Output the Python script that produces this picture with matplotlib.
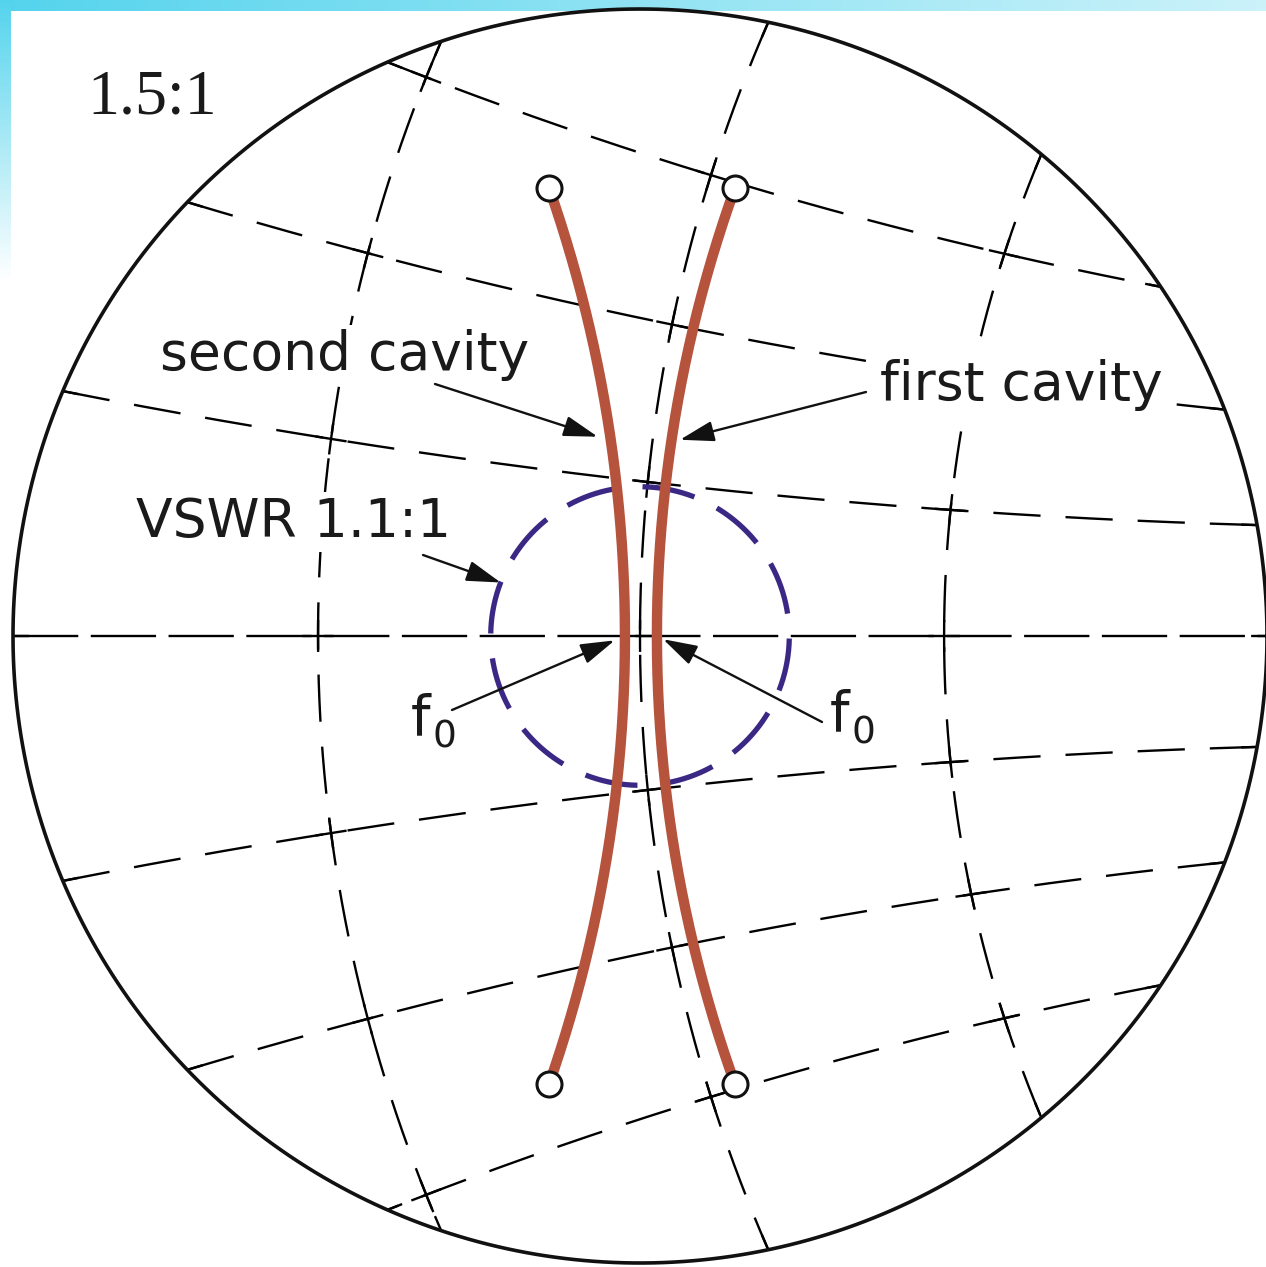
import numpy as np
import matplotlib
matplotlib.use("Agg")
import matplotlib.pyplot as plt

plt.rcParams['font.family'] = ['DejaVu Sans']
plt.rcParams['lines.scale_dashes'] = False

# ---- values (reflection coefficient plane) ----
vswr_outer = 1.5                 # edge of the magnified chart
vswr_match = 1.1                 # purple dashed circle
# constant resistance arcs: point at the top edge and crossing of the real axis
res_top_re = [-0.0635, 0.0408, 0.1282]
res_top_im = [0.1895, 0.1955, 0.1541]
res_axis_re = [-0.1027, 0.0, 0.0970]
# constant reactance arcs (upper half, mirrored below): left / middle / right point
react_re = [[-0.1840, 0.0, 0.1962], [-0.1381, 0.0574, 0.1876], [-0.0807, 0.0246, 0.1681]]
react_im = [[0.0781, 0.0494, 0.0354], [0.1365, 0.0903, 0.0721], [0.1831, 0.1464, 0.1110]]
# cavity loci: lower edge, f0, upper edge
second_re = [-0.029, -0.0048, -0.029]
second_im = [0.1429, 0.0, -0.1429]
first_re = [0.0303, 0.0054, 0.0303]
first_im = [0.1429, 0.0, -0.1429]

W, H = 1266, 1267
scale = 3135.0        # pixels per unit of gamma
x0, y0 = 640, 636     # chart centre in pixels

rho = (vswr_outer - 1) / (vswr_outer + 1)
rho_m = (vswr_match - 1) / (vswr_match + 1)

fig = plt.figure(figsize=(W / 100, H / 100), dpi=100)

# slide background: cyan strips top and left
bg = fig.add_axes([0, 0, 1, 1])
bg.axis('off')
img = np.ones((H, W, 3))
cyan = np.array([0.33, 0.83, 0.93])
pale = np.array([0.80, 0.95, 0.98])
t = np.linspace(0, 1, W)[:, None]
img[:11] = (cyan * (1 - t) + pale * t)[None]
v = np.clip(np.arange(H) / 280, 0, 1)[:, None]
img[:, :11] = (cyan * (1 - v) + v)[:, None]
bg.imshow(img, extent=[0, W, H, 0], aspect='auto')
bg.set_xlim(0, W)
bg.set_ylim(H, 0)

ax = fig.add_axes([0, 0, 1, 1])
ax.set_xlim(-x0 / scale, (W - x0) / scale)
ax.set_ylim(-(H - y0) / scale, y0 / scale)
ax.axis('off')


def circ3(xs, ys):
    (ax_, ay), (bx, by), (cx_, cy) = zip(xs, ys)
    d = 2 * (ax_ * (by - cy) + bx * (cy - ay) + cx_ * (ay - by))
    ux = ((ax_**2 + ay**2) * (by - cy) + (bx**2 + by**2) * (cy - ay)
          + (cx_**2 + cy**2) * (ay - by)) / d
    uy = ((ax_**2 + ay**2) * (cx_ - bx) + (bx**2 + by**2) * (ax_ - cx_)
          + (cx_**2 + cy**2) * (bx - ax_)) / d
    return ux, uy, np.hypot(ax_ - ux, ay - uy)


def arc_inside(c, mid):
    ux, uy, R = c
    th0 = np.arctan2(mid[1] - uy, mid[0] - ux)
    span = min(0.35 / R, 1.5)
    th = np.linspace(th0 - span, th0 + span, 6000)
    gx, gy = ux + R * np.cos(th), uy + R * np.sin(th)
    m = np.hypot(gx, gy) <= rho
    return gx[m], gy[m]


def circ_cross(c1, c2):
    (x1, y1, R1), (x2, y2, R2) = c1, c2
    d = np.hypot(x2 - x1, y2 - y1)
    a = (R1**2 - R2**2 + d**2) / (2 * d)
    h = np.sqrt(max(R1**2 - a**2, 0))
    px, py = x1 + a * (x2 - x1) / d, y1 + a * (y2 - y1) / d
    c = [complex(px + h * (y2 - y1) / d, py - h * (x2 - x1) / d),
         complex(px - h * (y2 - y1) / d, py + h * (x2 - x1) / d)]
    return min(c, key=abs)


res_circles, curves = [], []
for tr, ti, ar in zip(res_top_re, res_top_im, res_axis_re):
    c = circ3([tr, ar, tr], [ti, 0, -ti])
    res_circles.append(c)
    curves.append(arc_inside(c, (ar, 0)))
react_circles = []
for xs, ys in zip(react_re, react_im):
    for sgn in (1, -1):
        c = circ3(xs, [sgn * y for y in ys])
        react_circles.append(c)
        curves.append(arc_inside(c, (xs[1], sgn * ys[1])))

nodes = [complex(a, 0) for a in res_axis_re]
for cr in res_circles:
    for cx in react_circles:
        nodes.append(circ_cross(cr, cx))
stub = 16 / scale


def grid_line(gx, gy, dash, lw=1.7):
    pts = nodes + [complex(gx[0], gy[0]), complex(gx[-1], gy[-1])]
    g = gx + 1j * gy
    near = np.zeros(len(g), bool)
    for p in pts:
        near |= np.abs(g - p) < stub
    ax.plot(gx, gy, color='k', lw=lw, ls=dash, zorder=1, solid_capstyle='butt')
    ax.plot(np.where(near, gx, np.nan), gy, color='k', lw=lw, zorder=1,
            solid_capstyle='butt')


for gx, gy in curves:
    grid_line(gx, gy, (0, (34, 18)))
ax_x = np.linspace(-rho, rho, 3000)
grid_line(ax_x, np.zeros_like(ax_x), (0, (47, 9)))

# outer boundary
th = np.linspace(0, 2 * np.pi, 800)
ax.plot(rho * np.cos(th), rho * np.sin(th), color='#111111', lw=2.6, zorder=2)

# VSWR 1.1:1 circle, 12 dashes round
period = 2 * np.pi * rho_m * scale * 0.72 / 12
th_start = np.pi + (10 / scale) / rho_m
thm = th_start - np.linspace(0, 2 * np.pi, 800)
ax.plot(rho_m * np.cos(thm), rho_m * np.sin(thm), color='#3b2884', lw=3.8,
        ls=(0.84 * period, (0.68 * period, 0.32 * period)), zorder=3,
        solid_capstyle='butt')


def cavity(re, im):
    ux, uy, R = circ3(re, im)
    a = np.unwrap([np.arctan2(y - uy, x - ux) for x, y in zip(re, im)])
    tt = np.linspace(a[0], a[2], 400)
    ax.plot(ux + R * np.cos(tt), uy + R * np.sin(tt), color='#b5533c', lw=7.5,
            zorder=4, solid_capstyle='butt')
    ax.plot([re[0], re[2]], [im[0], im[2]], 'o', ms=18, mfc='white', mec='#111111',
            mew=2.2, zorder=6)
    return ux, uy, R


c2 = cavity(second_re, second_im)
c1 = cavity(first_re, first_im)


def on_arc(c, gy, side):
    ux, uy, R = c
    return ux + side * np.sqrt(R**2 - (gy - uy)**2), gy


def arrow(tip, start_px, shrink):
    ax.annotate('', xy=tip, xycoords='data',
                xytext=(start_px[0] / W, 1 - start_px[1] / H), textcoords='axes fraction',
                arrowprops=dict(arrowstyle='-|>,head_length=1.5,head_width=0.45',
                                mutation_scale=14, lw=1.7, color='#111111',
                                shrinkA=0, shrinkB=shrink), zorder=9)


arrow(on_arc(c2, (y0 - 441) / scale, 1), (435, 384), 10)
arrow(on_arc(c1, (y0 - 442) / scale, -1), (866, 392), 6.5)
ang = np.deg2rad(159)
arrow((rho_m * np.cos(ang), rho_m * np.sin(ang)), (423, 555), 0)
arrow((second_re[1], second_im[1]), (452, 710), 8)
arrow((first_re[1], first_im[1]), (822, 722), 5)

box = dict(boxstyle='square,pad=0.08', fc='white', ec='none')


def label(px, py, s, size, **kw):
    ax.text(px / W, 1 - py / H, s, transform=ax.transAxes, fontsize=size,
            ha='left', va='baseline', color='#1a1a1a', zorder=8, **kw)


label(87, 113, '1.5:1', 46, family='Liberation Serif')
label(160, 370, 'second cavity', 38.5, bbox=box)
label(880, 400, 'first cavity', 38.5, bbox=box)
label(136, 537, 'VSWR 1.1:1', 38.5, bbox=box)
for fx, fy in [(411, 734), (830, 730)]:
    label(fx, fy, 'f', 40)
    label(fx + 21, fy + 14, '0', 27)

fig.savefig('out.png', dpi=100)
